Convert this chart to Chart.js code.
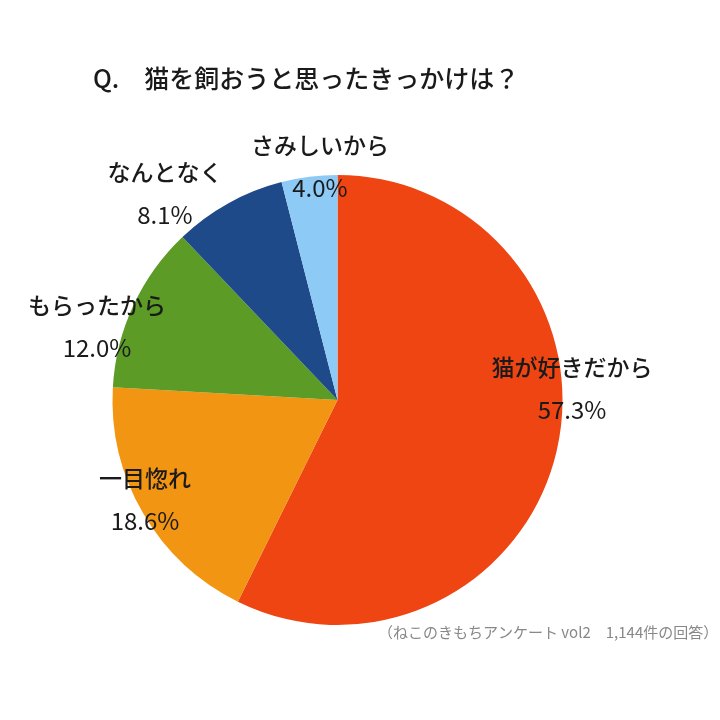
<!DOCTYPE html>
<html><head><meta charset="utf-8">
<script src="https://cdn.jsdelivr.net/npm/chart.js@4"></script>
<style>html,body{margin:0;background:#fff}#wrap{width:720px;height:720px;position:relative}</style>
</head><body><div id="wrap"><canvas id="c"></canvas></div>
<script>
const labels=['猫が好きだから','一目惚れ','もらったから','なんとなく','さみしいから'];
const values=[57.3,18.6,12.0,8.1,4.0];
const colors=['#EE4512','#F29512','#5C9B25','#1F4A8A','#8DCBF6'];
// label text centres (layout only)
const labelPos=[[572,367],[145,478],[97,305],[165,172],[320,145]];
const F='"Noto Sans CJK JP","Noto Sans",sans-serif';

const textPlugin={id:'txt',afterDraw(ch){
  const c=ch.ctx; c.save(); c.fillStyle='#1a1a1a'; c.textBaseline='middle';
  c.font='500 25px '+F; c.textAlign='left';
  c.fillText('Q.　猫を飼おうと思ったきっかけは？',93,78);
  c.textAlign='center';
  labels.forEach((l,i)=>{ const [x,y]=labelPos[i];
    c.font='500 23px '+F; c.fillText(l,x,y);
    c.font='24px '+F; c.fillText(values[i].toFixed(1)+'%',x,y+43); });
  c.font='15px '+F; c.fillStyle='#888'; c.textAlign='left';
  c.fillText('（ねこのきもちアンケート vol2　1,144件の回答）',378,632);
  c.restore(); }};

new Chart(document.getElementById('c'),{type:'pie',
  data:{labels,datasets:[{data:values,backgroundColor:colors,borderWidth:0}]},
  options:{responsive:true,maintainAspectRatio:false,animation:false,
    layout:{padding:{top:175,bottom:95,left:110,right:155}},
    plugins:{legend:{display:false},tooltip:{enabled:false}}},
  plugins:[textPlugin]});
</script></body></html>
